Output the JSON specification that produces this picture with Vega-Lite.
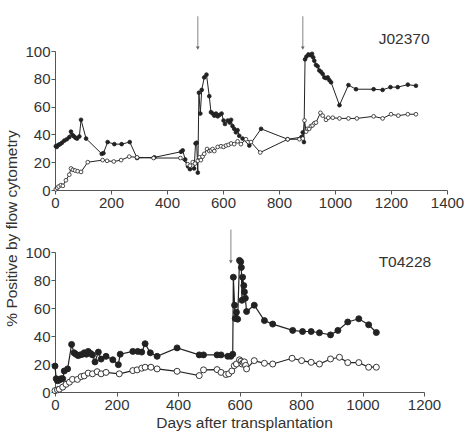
{
  "$schema": "https://vega.github.io/schema/vega-lite/v6.json",
  "padding": {"left": 4, "top": 15, "right": 0, "bottom": 2},
  "bounds": "flush",
  "spacing": 62,
  "config": {
    "font": "Liberation Sans",
    "view": {"stroke": null},
    "axis": {"grid": false, "domainColor": "#555", "tickColor": "#555", "tickSize": 4, "labelFontSize": 15, "labelColor": "#333", "labelPadding": 1, "labelFlush": false, "format": "d", "titleFontSize": 15.5, "titleFontWeight": "normal", "titleColor": "#333", "domainWidth": 1, "tickWidth": 1}
  },
  "datasets": {
    "top": [
      {"day": 3, "val": 31.5, "series": "filled"}, {"day": 6, "val": 31, "series": "filled"}, {"day": 9, "val": 32, "series": "filled"}, {"day": 13, "val": 32.5, "series": "filled"}, {"day": 18, "val": 33, "series": "filled"}, {"day": 25, "val": 34, "series": "filled"}, {"day": 33, "val": 35.5, "series": "filled"}, {"day": 42, "val": 36.5, "series": "filled"}, {"day": 51, "val": 38, "series": "filled"}, {"day": 57, "val": 42, "series": "filled"}, {"day": 63, "val": 39.5, "series": "filled"}, {"day": 68, "val": 38.5, "series": "filled"}, {"day": 74, "val": 37.5, "series": "filled"}, {"day": 79, "val": 37, "series": "filled"}, {"day": 87, "val": 38.5, "series": "filled"}, {"day": 93, "val": 50.5, "series": "filled"}, {"day": 111, "val": 37, "series": "filled"}, {"day": 167, "val": 26, "series": "filled"}, {"day": 173, "val": 26.5, "series": "filled"}, {"day": 188, "val": 34.5, "series": "filled"}, {"day": 212, "val": 33, "series": "filled"}, {"day": 238, "val": 33, "series": "filled"}, {"day": 267, "val": 34.5, "series": "filled"}, {"day": 293, "val": 23, "series": "filled"}, {"day": 355, "val": 23.5, "series": "filled"}, {"day": 450, "val": 27.5, "series": "filled"}, {"day": 456, "val": 28.5, "series": "filled"}, {"day": 465, "val": 22, "series": "filled"}, {"day": 475, "val": 17, "series": "filled"}, {"day": 482, "val": 15, "series": "filled"}, {"day": 497, "val": 15.5, "series": "filled"}, {"day": 502, "val": 33.5, "series": "filled"}, {"day": 506, "val": 34, "series": "filled"}, {"day": 510, "val": 12.5, "series": "filled"}, {"day": 514, "val": 70, "series": "filled"}, {"day": 519, "val": 55, "series": "filled"}, {"day": 524, "val": 72, "series": "filled"}, {"day": 533, "val": 81, "series": "filled"}, {"day": 541, "val": 83, "series": "filled"}, {"day": 551, "val": 67.5, "series": "filled"}, {"day": 557, "val": 56, "series": "filled"}, {"day": 563, "val": 55, "series": "filled"}, {"day": 569, "val": 53.5, "series": "filled"}, {"day": 575, "val": 55, "series": "filled"}, {"day": 581, "val": 53, "series": "filled"}, {"day": 587, "val": 54, "series": "filled"}, {"day": 595, "val": 55, "series": "filled"}, {"day": 602, "val": 50, "series": "filled"}, {"day": 607, "val": 47.5, "series": "filled"}, {"day": 617, "val": 50, "series": "filled"}, {"day": 624, "val": 48.5, "series": "filled"}, {"day": 629, "val": 50.5, "series": "filled"}, {"day": 634, "val": 46, "series": "filled"}, {"day": 640, "val": 44, "series": "filled"}, {"day": 646, "val": 41.5, "series": "filled"}, {"day": 652, "val": 43, "series": "filled"}, {"day": 658, "val": 39, "series": "filled"}, {"day": 670, "val": 37, "series": "filled"}, {"day": 694, "val": 32, "series": "filled"}, {"day": 736, "val": 44, "series": "filled"}, {"day": 831, "val": 36.5, "series": "filled"}, {"day": 880, "val": 38, "series": "filled"}, {"day": 885, "val": 41.5, "series": "filled"}, {"day": 889, "val": 34.5, "series": "filled"}, {"day": 893, "val": 94, "series": "filled"}, {"day": 898, "val": 96, "series": "filled"}, {"day": 905, "val": 97.5, "series": "filled"}, {"day": 912, "val": 97, "series": "filled"}, {"day": 918, "val": 98, "series": "filled"}, {"day": 922, "val": 95.5, "series": "filled"}, {"day": 926, "val": 93, "series": "filled"}, {"day": 932, "val": 90, "series": "filled"}, {"day": 938, "val": 89, "series": "filled"}, {"day": 944, "val": 86, "series": "filled"}, {"day": 950, "val": 85, "series": "filled"}, {"day": 956, "val": 83.5, "series": "filled"}, {"day": 962, "val": 81, "series": "filled"}, {"day": 968, "val": 80.5, "series": "filled"}, {"day": 974, "val": 81, "series": "filled"}, {"day": 980, "val": 79, "series": "filled"}, {"day": 986, "val": 77.5, "series": "filled"}, {"day": 1016, "val": 61, "series": "filled"}, {"day": 1048, "val": 75.5, "series": "filled"}, {"day": 1075, "val": 72.5, "series": "filled"}, {"day": 1138, "val": 72.5, "series": "filled"}, {"day": 1170, "val": 72, "series": "filled"}, {"day": 1198, "val": 74, "series": "filled"}, {"day": 1224, "val": 74, "series": "filled"}, {"day": 1260, "val": 75.8, "series": "filled"}, {"day": 1289, "val": 75, "series": "filled"},
      {"day": 3, "val": 0.5, "series": "open"}, {"day": 8, "val": 1.5, "series": "open"}, {"day": 13, "val": 2.5, "series": "open"}, {"day": 21, "val": 3.5, "series": "open"}, {"day": 28, "val": 3, "series": "open"}, {"day": 39, "val": 7, "series": "open"}, {"day": 51, "val": 11, "series": "open"}, {"day": 57, "val": 15.5, "series": "open"}, {"day": 64, "val": 14.5, "series": "open"}, {"day": 72, "val": 14, "series": "open"}, {"day": 81, "val": 13.5, "series": "open"}, {"day": 93, "val": 13, "series": "open"}, {"day": 117, "val": 20, "series": "open"}, {"day": 170, "val": 21.5, "series": "open"}, {"day": 186, "val": 21, "series": "open"}, {"day": 210, "val": 20.5, "series": "open"}, {"day": 236, "val": 21.5, "series": "open"}, {"day": 265, "val": 24, "series": "open"}, {"day": 293, "val": 23.5, "series": "open"}, {"day": 352, "val": 23, "series": "open"}, {"day": 448, "val": 23, "series": "open"}, {"day": 474, "val": 18.5, "series": "open"}, {"day": 482, "val": 17.5, "series": "open"}, {"day": 492, "val": 20, "series": "open"}, {"day": 500, "val": 19, "series": "open"}, {"day": 510, "val": 21, "series": "open"}, {"day": 516, "val": 23.5, "series": "open"}, {"day": 521, "val": 21.5, "series": "open"}, {"day": 527, "val": 24, "series": "open"}, {"day": 533, "val": 26, "series": "open"}, {"day": 543, "val": 29.5, "series": "open"}, {"day": 551, "val": 28, "series": "open"}, {"day": 557, "val": 28.5, "series": "open"}, {"day": 563, "val": 29.5, "series": "open"}, {"day": 569, "val": 28, "series": "open"}, {"day": 581, "val": 31, "series": "open"}, {"day": 593, "val": 31.5, "series": "open"}, {"day": 602, "val": 31, "series": "open"}, {"day": 611, "val": 32, "series": "open"}, {"day": 620, "val": 32.5, "series": "open"}, {"day": 629, "val": 33.5, "series": "open"}, {"day": 640, "val": 33, "series": "open"}, {"day": 652, "val": 35, "series": "open"}, {"day": 664, "val": 33, "series": "open"}, {"day": 682, "val": 36.5, "series": "open"}, {"day": 700, "val": 34.5, "series": "open"}, {"day": 733, "val": 27, "series": "open"}, {"day": 831, "val": 36.5, "series": "open"}, {"day": 873, "val": 36.5, "series": "open"}, {"day": 885, "val": 37, "series": "open"}, {"day": 891, "val": 50, "series": "open"}, {"day": 897, "val": 42, "series": "open"}, {"day": 902, "val": 44, "series": "open"}, {"day": 908, "val": 44, "series": "open"}, {"day": 914, "val": 46, "series": "open"}, {"day": 920, "val": 46.5, "series": "open"}, {"day": 926, "val": 48, "series": "open"}, {"day": 932, "val": 48.5, "series": "open"}, {"day": 948, "val": 55.5, "series": "open"}, {"day": 956, "val": 53.5, "series": "open"}, {"day": 968, "val": 50.5, "series": "open"}, {"day": 976, "val": 52, "series": "open"}, {"day": 992, "val": 52, "series": "open"}, {"day": 1016, "val": 51.5, "series": "open"}, {"day": 1048, "val": 51.5, "series": "open"}, {"day": 1078, "val": 51.5, "series": "open"}, {"day": 1138, "val": 53, "series": "open"}, {"day": 1170, "val": 51.5, "series": "open"}, {"day": 1200, "val": 54.5, "series": "open"}, {"day": 1226, "val": 53.5, "series": "open"}, {"day": 1260, "val": 54.5, "series": "open"}, {"day": 1289, "val": 54.5, "series": "open"}
    ],
    "bottom": [
      {"day": 0, "val": 18.5, "series": "filled"}, {"day": 4, "val": 9.5, "series": "filled"}, {"day": 8, "val": 8, "series": "filled"}, {"day": 14, "val": 8.5, "series": "filled"}, {"day": 20, "val": 9.5, "series": "filled"}, {"day": 25, "val": 9.5, "series": "filled"}, {"day": 30, "val": 15, "series": "filled"}, {"day": 41, "val": 16.5, "series": "filled"}, {"day": 54, "val": 34, "series": "filled"}, {"day": 62, "val": 28, "series": "filled"}, {"day": 68, "val": 27, "series": "filled"}, {"day": 75, "val": 26, "series": "filled"}, {"day": 82, "val": 26.5, "series": "filled"}, {"day": 90, "val": 27, "series": "filled"}, {"day": 95, "val": 28, "series": "filled"}, {"day": 102, "val": 27, "series": "filled"}, {"day": 108, "val": 29, "series": "filled"}, {"day": 116, "val": 27.5, "series": "filled"}, {"day": 122, "val": 26.5, "series": "filled"}, {"day": 130, "val": 21.5, "series": "filled"}, {"day": 141, "val": 28.5, "series": "filled"}, {"day": 150, "val": 23.5, "series": "filled"}, {"day": 166, "val": 25.5, "series": "filled"}, {"day": 188, "val": 23, "series": "filled"}, {"day": 206, "val": 19.5, "series": "filled"}, {"day": 212, "val": 27, "series": "filled"}, {"day": 253, "val": 29, "series": "filled"}, {"day": 269, "val": 29, "series": "filled"}, {"day": 282, "val": 28.5, "series": "filled"}, {"day": 293, "val": 34.5, "series": "filled"}, {"day": 310, "val": 28, "series": "filled"}, {"day": 332, "val": 25.5, "series": "filled"}, {"day": 397, "val": 31.5, "series": "filled"}, {"day": 469, "val": 26.5, "series": "filled"}, {"day": 483, "val": 26.5, "series": "filled"}, {"day": 527, "val": 26.5, "series": "filled"}, {"day": 540, "val": 26.5, "series": "filled"}, {"day": 562, "val": 25.5, "series": "filled"}, {"day": 572, "val": 25.5, "series": "filled"}, {"day": 578, "val": 27, "series": "filled"}, {"day": 580, "val": 82, "series": "filled"}, {"day": 584, "val": 62, "series": "filled"}, {"day": 586, "val": 52.5, "series": "filled"}, {"day": 590, "val": 57, "series": "filled"}, {"day": 594, "val": 52, "series": "filled"}, {"day": 600, "val": 94, "series": "filled"}, {"day": 604, "val": 93, "series": "filled"}, {"day": 606, "val": 89, "series": "filled"}, {"day": 608, "val": 65.5, "series": "filled"}, {"day": 610, "val": 82, "series": "filled"}, {"day": 614, "val": 76, "series": "filled"}, {"day": 616, "val": 71.5, "series": "filled"}, {"day": 619, "val": 67, "series": "filled"}, {"day": 623, "val": 57.5, "series": "filled"}, {"day": 648, "val": 62, "series": "filled"}, {"day": 681, "val": 51, "series": "filled"}, {"day": 708, "val": 48.5, "series": "filled"}, {"day": 773, "val": 44, "series": "filled"}, {"day": 805, "val": 43.2, "series": "filled"}, {"day": 833, "val": 43.2, "series": "filled"}, {"day": 860, "val": 42.3, "series": "filled"}, {"day": 896, "val": 40.8, "series": "filled"}, {"day": 920, "val": 44, "series": "filled"}, {"day": 952, "val": 50, "series": "filled"}, {"day": 988, "val": 52.3, "series": "filled"}, {"day": 1020, "val": 48, "series": "filled"}, {"day": 1045, "val": 42.5, "series": "filled"},
      {"day": 0, "val": 1, "series": "open"}, {"day": 8, "val": 1.5, "series": "open"}, {"day": 14, "val": 2, "series": "open"}, {"day": 25, "val": 3.5, "series": "open"}, {"day": 36, "val": 5.5, "series": "open"}, {"day": 47, "val": 7, "series": "open"}, {"day": 57, "val": 9, "series": "open"}, {"day": 73, "val": 9, "series": "open"}, {"day": 85, "val": 11, "series": "open"}, {"day": 95, "val": 11.5, "series": "open"}, {"day": 108, "val": 13.5, "series": "open"}, {"day": 122, "val": 13, "series": "open"}, {"day": 137, "val": 14.5, "series": "open"}, {"day": 150, "val": 13, "series": "open"}, {"day": 166, "val": 14, "series": "open"}, {"day": 209, "val": 13, "series": "open"}, {"day": 253, "val": 15.3, "series": "open"}, {"day": 267, "val": 15.8, "series": "open"}, {"day": 282, "val": 17, "series": "open"}, {"day": 293, "val": 17.7, "series": "open"}, {"day": 312, "val": 17.7, "series": "open"}, {"day": 332, "val": 16.5, "series": "open"}, {"day": 397, "val": 14.8, "series": "open"}, {"day": 469, "val": 11.7, "series": "open"}, {"day": 483, "val": 15.8, "series": "open"}, {"day": 527, "val": 16, "series": "open"}, {"day": 540, "val": 14, "series": "open"}, {"day": 556, "val": 12.5, "series": "open"}, {"day": 565, "val": 13, "series": "open"}, {"day": 575, "val": 15, "series": "open"}, {"day": 583, "val": 18.8, "series": "open"}, {"day": 590, "val": 20, "series": "open"}, {"day": 600, "val": 23, "series": "open"}, {"day": 605, "val": 22, "series": "open"}, {"day": 608, "val": 20, "series": "open"}, {"day": 612, "val": 21, "series": "open"}, {"day": 616, "val": 21.5, "series": "open"}, {"day": 620, "val": 19, "series": "open"}, {"day": 623, "val": 16.5, "series": "open"}, {"day": 648, "val": 22.4, "series": "open"}, {"day": 681, "val": 20.5, "series": "open"}, {"day": 708, "val": 20, "series": "open"}, {"day": 771, "val": 24.1, "series": "open"}, {"day": 802, "val": 22.4, "series": "open"}, {"day": 833, "val": 21.2, "series": "open"}, {"day": 860, "val": 20, "series": "open"}, {"day": 896, "val": 23.6, "series": "open"}, {"day": 925, "val": 24.8, "series": "open"}, {"day": 952, "val": 21, "series": "open"}, {"day": 988, "val": 21, "series": "open"}, {"day": 1020, "val": 17.7, "series": "open"}, {"day": 1045, "val": 17.7, "series": "open"}
    ],
    "topArrows": [{"day": 510, "val": 125, "val2": 102}, {"day": 885, "val": 125, "val2": 102}],
    "bottomArrows": [{"day": 572, "val": 116, "val2": 93}],
    "topLabel": [{"day": 1247, "val": 108.6, "label": "J02370"}],
    "bottomLabel": [{"day": 1138, "val": 93, "label": "T04228"}]
  },
  "vconcat": [
    {
      "width": 392,
      "height": 139,
      "encoding": {
        "x": {"field": "day", "type": "quantitative", "scale": {"domain": [0, 1400], "nice": false}, "axis": {"values": [0, 200, 400, 600, 800, 1000, 1200, 1400], "title": null}},
        "y": {"field": "val", "type": "quantitative", "scale": {"domain": [0, 100], "nice": false}, "axis": {"values": [0, 20, 40, 60, 80, 100], "title": "% Positive by flow cytometry", "titleX": -39, "titleY": 177, "titleAngle": -90, "titleAlign": "center", "titleBaseline": "alphabetic"}}
      },
      "layer": [
        {"data": {"name": "top"}, "mark": {"type": "line", "color": "#222", "strokeWidth": 1}, "encoding": {"detail": {"field": "series"}}},
        {"data": {"name": "top"}, "mark": {"type": "point", "size": 14, "stroke": "#222", "strokeWidth": 0.8, "opacity": 1, "filled": false}, "encoding": {"fill": {"field": "series", "scale": {"domain": ["filled", "open"], "range": ["#222", "#ffffff"]}, "legend": null}}},
        {"data": {"name": "topArrows"}, "mark": {"type": "rule", "color": "#999", "strokeWidth": 1.2}, "encoding": {"y2": {"field": "val2"}}},
        {"data": {"name": "topArrows"}, "mark": {"type": "point", "shape": "triangle-down", "filled": true, "color": "#666", "size": 14, "opacity": 1}, "encoding": {"y": {"field": "val2", "type": "quantitative", "title": "% Positive by flow cytometry"}}},
        {"data": {"name": "topLabel"}, "mark": {"type": "text", "fontSize": 15.5, "color": "#333", "align": "center", "baseline": "middle"}, "encoding": {"text": {"field": "label"}}}
      ]
    },
    {
      "width": 369,
      "height": 140,
      "encoding": {
        "x": {"field": "day", "type": "quantitative", "scale": {"domain": [0, 1200], "nice": false}, "axis": {"values": [0, 200, 400, 600, 800, 1000, 1200], "title": "Days after transplantation", "titleX": 189, "titlePadding": 3}},
        "y": {"field": "val", "type": "quantitative", "scale": {"domain": [0, 100], "nice": false}, "axis": {"values": [0, 20, 40, 60, 80, 100], "title": null}}
      },
      "layer": [
        {"data": {"name": "bottom"}, "mark": {"type": "line", "color": "#222", "strokeWidth": 1.2}, "encoding": {"detail": {"field": "series"}}},
        {"data": {"name": "bottom"}, "mark": {"type": "point", "size": 36, "stroke": "#222", "strokeWidth": 0.9, "opacity": 1, "filled": false}, "encoding": {"fill": {"field": "series", "scale": {"domain": ["filled", "open"], "range": ["#222", "#ffffff"]}, "legend": null}}},
        {"data": {"name": "bottomArrows"}, "mark": {"type": "rule", "color": "#999", "strokeWidth": 1.2}, "encoding": {"y2": {"field": "val2"}}},
        {"data": {"name": "bottomArrows"}, "mark": {"type": "point", "shape": "triangle-down", "filled": true, "color": "#666", "size": 14, "opacity": 1}, "encoding": {"y": {"field": "val2", "type": "quantitative", "title": null}}},
        {"data": {"name": "bottomLabel"}, "mark": {"type": "text", "fontSize": 15.5, "color": "#333", "align": "center", "baseline": "middle"}, "encoding": {"text": {"field": "label"}}}
      ]
    }
  ]
}
